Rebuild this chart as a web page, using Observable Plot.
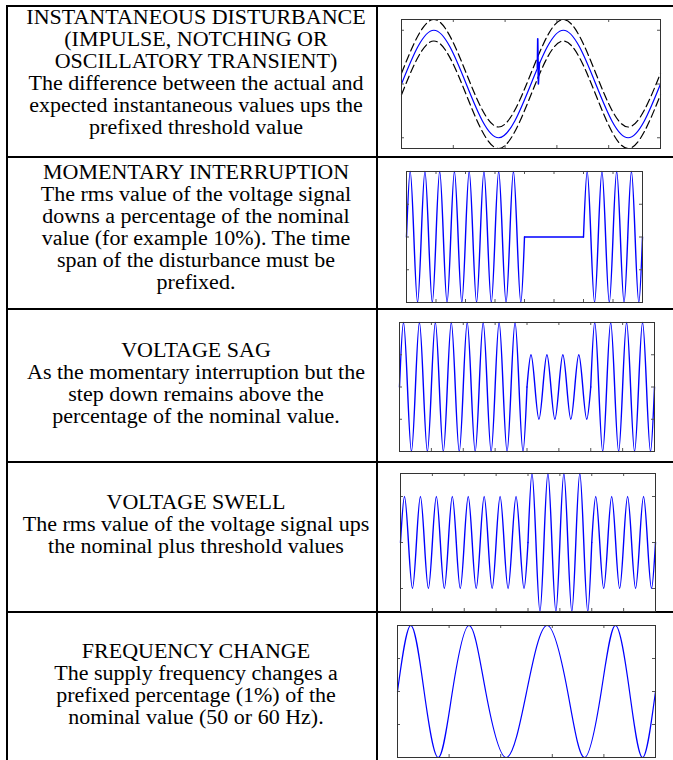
<!DOCTYPE html>
<html><head><meta charset="utf-8">
<script src="https://cdn.jsdelivr.net/npm/d3@7"></script>
<script src="https://cdn.jsdelivr.net/npm/@observablehq/plot@0.6"></script>
<style>
html,body{margin:0;padding:0;background:#fff;}
#page{position:relative;width:673px;height:760px;overflow:hidden;font-family:"Liberation Serif","Times New Roman",serif;color:#000;}
.hl{position:absolute;left:6px;right:0;height:2px;background:#000;}
.vl{position:absolute;width:2px;background:#000;top:5px;bottom:0;}
.txt{position:absolute;left:16px;width:360px;text-align:center;font-size:20px;line-height:22px;white-space:nowrap;transform:scaleX(1.1);transform-origin:180px 0;}
.chart{position:absolute;display:block;}
</style></head><body><div id="page"></div>
<script>
// ---------- text content ----------
const cellText = [
  ["INSTANTANEOUS DISTURBANCE", "(IMPULSE, NOTCHING OR", "OSCILLATORY TRANSIENT)", "The difference between the actual and", "expected instantaneous values ups the", "prefixed threshold value"],
  ["MOMENTARY INTERRUPTION", "The rms value of the voltage signal", "downs a percentage of the nominal", "value (for example 10%). The time", "span of the disturbance must be", "prefixed."],
  ["VOLTAGE SAG", "As the momentary interruption but the", "step down remains above the", "percentage of the nominal value."],
  ["VOLTAGE SWELL", "The rms value of the voltage signal ups", "the nominal plus threshold values"],
  ["FREQUENCY CHANGE", "The supply frequency changes a", "prefixed percentage (1%) of the", "nominal value (50 or 60 Hz)."]
];

// ---------- waveform data ----------
// Row 1: instantaneous disturbance, amplitude per cycle, threshold band, impulse samples
const transientAmp = [1, 1];
const transientBand = 0.2;
const impulseT = [1.049, 1.052, 1.057, 1.065];
const impulseV = [0.30, 0.84, 0.0, 0.40];
const transientXTicks = [0.4, 0.8, 1.2, 1.6];
const transientYTicks = [-1, 0, 1];

// Row 2: momentary interruption, amplitude per cycle
const interruptionAmp = [1, 1, 1, 1, 1, 1, 1, 1, 0, 0, 0, 0, 1, 1, 1, 1];
// Row 3: voltage sag, amplitude per cycle
const sagAmp = [1, 1, 1, 1, 1, 1, 1, 1, 0.5, 0.5, 0.5, 0.5, 1, 1, 1, 1];
// Row 4: voltage swell, amplitude per cycle
const swellAmp = [1, 1, 1, 1, 1, 1, 1, 1, 1.5, 1.5, 1.5, 1.5, 1, 1, 1, 1];
const cycleXTicks = [2, 4, 6, 8, 10, 12, 14];
const halfYTicks = [-0.5, 0, 0.5];
const unitYTicks = [-1, 0, 1];

// Row 5: frequency change, duration of each half cycle
const freqHalfCycles = [0.516, 0.548, 0.645, 0.794, 0.794, 0.652, 0.548, 0.503];
const freqXTicks = [1, 2, 3, 4];

// ---------- layout ----------
const page = document.getElementById("page");
const hLines = [5, 156, 308, 461, 611];
hLines.forEach(y => { const d = document.createElement("div"); d.className = "hl"; d.style.top = y + "px"; page.appendChild(d); });
[6, 376].forEach(x => { const d = document.createElement("div"); d.className = "vl"; d.style.left = x + "px"; page.appendChild(d); });

const firstBaselines = [23.3, 179, 357, 509, 658];
cellText.forEach((lines, i) => {
  const d = document.createElement("div");
  d.className = "txt";
  d.style.top = (firstBaselines[i] - 17.8) + "px";
  d.innerHTML = lines.map(s => s.replace(/&/g, "&amp;")).join("<br>");
  page.appendChild(d);
});

// key points of a wave: zero, peak, zero, trough per cycle; a new segment where amplitude changes
function cyclePoints(amps, offset = 0) {
  const pts = [];
  let seg = 0;
  amps.forEach((a, i) => {
    if (i > 0 && a !== amps[i - 1]) seg++;
    [[0, 0], [0.25, a], [0.5, 0], [0.75, -a]].forEach(([dt, v]) => pts.push({t: i + dt, v: v + offset, seg}));
    if (i === amps.length - 1 || amps[i + 1] !== a) pts.push({t: i + 1, v: offset, seg});
  });
  return pts;
}
function halfCyclePoints(halves) {
  const pts = [{t: 0, v: 0}];
  let t = 0;
  halves.forEach((h, k) => {
    pts.push({t: t + h / 2, v: k % 2 ? -1 : 1});
    t += h;
    pts.push({t, v: 0});
  });
  return pts;
}

const BLUE = "#0000ff";
function chart({left, top, w, h, xDomain, yDomain, xTicks, yTicks, marks}) {
  const svg = Plot.plot({
    width: w + 2, height: h + 2,
    marginTop: 1, marginRight: 1, marginBottom: 1, marginLeft: 1,
    x: {domain: xDomain, axis: null},
    y: {domain: yDomain, axis: null},
    style: {background: "transparent", overflow: "visible"},
    marks: [
      ...marks,
      Plot.tickX(xTicks, {x: d => d, insetTop: h - 3, stroke: "#555"}),
      Plot.tickX(xTicks, {x: d => d, insetBottom: h - 3, stroke: "#555"}),
      Plot.tickY(yTicks, {y: d => d, insetLeft: w - 3, stroke: "#555"}),
      Plot.tickY(yTicks, {y: d => d, insetRight: w - 3, stroke: "#555"}),
      Plot.frame({stroke: "#333"})
    ]
  });
  svg.classList.add("chart");
  svg.style.left = (left - 1) + "px";
  svg.style.top = (top - 1) + "px";
  svg.style.maxWidth = "none";
  page.appendChild(svg);
}

const waveLine = (pts, sw = 1.4) => Plot.line(pts, {x: "t", y: "v", z: "seg", curve: "natural", stroke: BLUE, strokeWidth: sw});

// Row 1
chart({
  left: 401, top: 19, w: 259, h: 129,
  xDomain: [0, 2], yDomain: [-1.2, 1.2], xTicks: transientXTicks, yTicks: transientYTicks,
  marks: [
    Plot.line(cyclePoints(transientAmp, transientBand), {x: "t", y: "v", curve: "natural", stroke: "#000", strokeWidth: 1.2, strokeDasharray: "8,4"}),
    Plot.line(cyclePoints(transientAmp, -transientBand), {x: "t", y: "v", curve: "natural", stroke: "#000", strokeWidth: 1.2, strokeDasharray: "8,4"}),
    waveLine(cyclePoints(transientAmp), 1.2),
    Plot.line(impulseT.map((t, i) => ({t, v: impulseV[i]})), {x: "t", y: "v", stroke: BLUE, strokeWidth: 1.6})
  ]
});
// Row 2
chart({
  left: 406, top: 171, w: 236, h: 131,
  xDomain: [0, 16], yDomain: [-1, 1], xTicks: cycleXTicks, yTicks: halfYTicks,
  marks: [waveLine(cyclePoints(interruptionAmp))]
});
// Row 3
chart({
  left: 399, top: 322, w: 255, h: 129,
  xDomain: [0, 16], yDomain: [-1, 1], xTicks: cycleXTicks, yTicks: halfYTicks,
  marks: [waveLine(cyclePoints(sagAmp))]
});
// Row 4
chart({
  left: 400, top: 473, w: 255, h: 138,
  xDomain: [0, 16], yDomain: [-1.5, 1.5], xTicks: cycleXTicks, yTicks: unitYTicks,
  marks: [waveLine(cyclePoints(swellAmp))]
});
// Row 5
chart({
  left: 397, top: 625, w: 258, h: 132,
  xDomain: [0, 5], yDomain: [-1, 1], xTicks: freqXTicks, yTicks: halfYTicks,
  marks: [Plot.line(halfCyclePoints(freqHalfCycles), {x: "t", y: "v", curve: "natural", stroke: BLUE, strokeWidth: 1.2})]
});
</script>
</body></html>
